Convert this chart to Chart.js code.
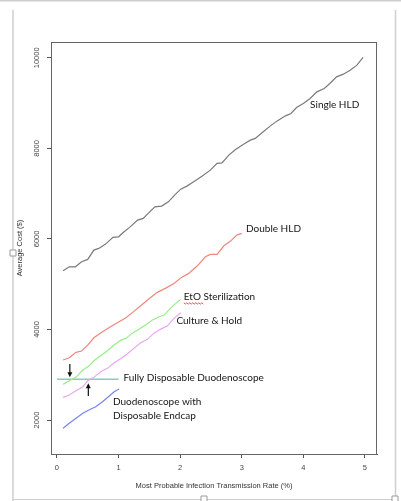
<!DOCTYPE html>
<html><head><meta charset="utf-8">
<script src="https://cdn.jsdelivr.net/npm/chart.js@4.4.0/dist/chart.umd.min.js"></script>
<style>html,body{margin:0;padding:0;background:#fff;overflow:hidden}</style>
</head><body>
<canvas id="c" width="401" height="501" style="width:401px;height:501px;display:block"></canvas>
<script>
// ---- data ----
const xTicks = [0, 1, 2, 3, 4, 5];
const yTicks = [2000, 4000, 6000, 8000, 10000];

const singleX = [0.10,0.20,0.30,0.40,0.50,0.60,0.68,0.79,0.91,1.00,1.09,1.18,1.31,1.40,1.49,1.59,1.70,1.81,1.91,2.01,2.11,2.22,2.36,2.49,2.60,2.68,2.79,2.90,3.03,3.14,3.22,3.33,3.46,3.57,3.71,3.80,3.89,4.00,4.11,4.22,4.34,4.43,4.54,4.65,4.76,4.87,4.97];
const singleY = [5297,5385,5385,5495,5548,5754,5791,5886,6034,6047,6158,6255,6416,6454,6577,6710,6725,6820,6968,7100,7167,7262,7388,7520,7668,7681,7851,7977,8094,8182,8220,8344,8492,8602,8719,8772,8904,8993,9103,9249,9324,9434,9580,9640,9728,9838,10008];

const doubleX = [0.10,0.20,0.31,0.40,0.50,0.60,0.74,0.87,1.01,1.12,1.23,1.36,1.49,1.63,1.76,1.90,2.02,2.14,2.28,2.41,2.49,2.60,2.71,2.82,2.92,3.00];
const doubleY = [3325,3376,3495,3524,3656,3817,3950,4060,4170,4259,4378,4524,4672,4820,4908,5018,5151,5239,5407,5606,5659,5659,5849,5952,6085,6122];

const etoX = [0.10,0.20,0.31,0.42,0.52,0.60,0.71,0.82,0.93,1.04,1.12,1.22,1.33,1.44,1.55,1.66,1.74,1.84,1.93,2.01];
const etoY = [2788,2868,2943,3104,3192,3309,3420,3530,3656,3766,3804,3914,4003,4098,4208,4281,4318,4466,4577,4665];

const cultureX = [0.10,0.20,0.31,0.42,0.50,0.60,0.71,0.82,0.93,1.04,1.14,1.25,1.36,1.47,1.57,1.68,1.79,1.90,2.01];
const cultureY = [2501,2552,2647,2735,2868,2943,3066,3142,3265,3362,3457,3583,3707,3782,3914,4003,4076,4246,4369];

const fullyX = [0, 1];
const fullyY = [2900, 2900];

const endcapX = [0.10,0.20,0.31,0.42,0.52,0.63,0.74,0.85,0.93,1.01];
const endcapY = [1817,1927,2038,2148,2221,2294,2404,2530,2625,2684];

const seriesNames = ['Single HLD','Double HLD','EtO Sterilization','Culture & Hold','Fully Disposable Duodenoscope','Duodenoscope with Disposable Endcap'];

// ---- annotation layout (text / arrows placed in data space) ----
const annotationLabels = [
  {text:'Single HLD', x:4.11, y:8955},
  {text:'Double HLD', x:3.07, y:6217},
  {text:'EtO Sterilization', x:2.06, y:4716, squiggle:'EtO'},
  {text:'Culture & Hold', x:1.94, y:4186},
  {text:'Fully Disposable Duodenoscope', x:1.08, y:2927},
  {text:'Duodenoscope with', x:0.91, y:2397},
  {text:'Disposable Endcap', x:0.91, y:2088}
];
const annotationArrows = [
  {x:0.21, from:3236, to:2943},
  {x:0.51, from:2530, to:2810}
];

const pts = (xs, ys) => xs.map((v, i) => ({x: v, y: ys[i]}));
const colors = ['#7a7a7a','#f2857c','#98ec8a','#eaa6f0','#86cbc4','#7684ee'];
const allX = [singleX, doubleX, etoX, cultureX, fullyX, endcapX];
const allY = [singleY, doubleY, etoY, cultureY, fullyY, endcapY];

const datasets = seriesNames.map((n, i) => ({
  label: n,
  data: pts(allX[i], allY[i]),
  borderColor: colors[i],
  borderWidth: i === 4 ? 1.4 : 1.2,
  pointRadius: 0,
  tension: 0,
  fill: false
}));

const axisFont = {family: 'Liberation Sans', size: 7.5};

const decorPlugin = {
  id: 'decor',
  beforeDraw(chart) {
    const ctx = chart.ctx;
    ctx.save();
    ctx.fillStyle = '#fff';
    ctx.fillRect(0, 0, chart.width, chart.height);
    // outer frame of the pasted picture
    ctx.strokeStyle = '#cfcfcf';
    ctx.lineWidth = 1.5;
    ctx.beginPath();
    ctx.moveTo(0, 0.75); ctx.lineTo(401, 0.75);
    ctx.moveTo(13, 10); ctx.lineTo(13, 501);
    ctx.moveTo(395.5, 10); ctx.lineTo(395.5, 501);
    ctx.stroke();
    ctx.lineWidth = 1;
    ctx.beginPath();
    ctx.moveTo(13, 499.5); ctx.lineTo(396, 499.5);
    ctx.stroke();
    ctx.restore();
  },
  afterDraw(chart) {
    const {ctx, chartArea: a, scales: {x, y}} = chart;
    ctx.save();
    // plot box
    ctx.strokeStyle = '#666';
    ctx.lineWidth = 1;
    ctx.strokeRect(Math.round(a.left) + 0.5, Math.round(a.top) + 0.5, Math.round(a.right - a.left) - 1, Math.round(a.bottom - a.top));
    // arrows
    ctx.strokeStyle = '#111';
    ctx.fillStyle = '#111';
    ctx.lineWidth = 1.2;
    annotationArrows.forEach(ar => {
      const px = x.getPixelForValue(ar.x);
      const y0 = y.getPixelForValue(ar.from);
      const y1 = y.getPixelForValue(ar.to);
      const dir = Math.sign(y1 - y0);
      ctx.beginPath();
      ctx.moveTo(px, y0); ctx.lineTo(px, y1 - dir * 4);
      ctx.stroke();
      ctx.beginPath();
      ctx.moveTo(px, y1);
      ctx.lineTo(px - 2.5, y1 - dir * 5);
      ctx.lineTo(px + 2.5, y1 - dir * 5);
      ctx.closePath();
      ctx.fill();
    });
    // labels
    ctx.font = '10px Lato';
    ctx.fillStyle = '#151515';
    ctx.textBaseline = 'middle';
    ctx.textAlign = 'left';
    annotationLabels.forEach(l => {
      const px = x.getPixelForValue(l.x);
      const py = y.getPixelForValue(l.y);
      ctx.fillText(l.text, px, py);
      if (l.squiggle) {
        const w = ctx.measureText(l.squiggle).width;
        ctx.strokeStyle = '#e0403a';
        ctx.lineWidth = 0.9;
        ctx.beginPath();
        let yy = py + 6;
        for (let sx = 0; sx <= w + 3; sx += 1.5) {
          const yv = yy + ((Math.round(sx / 1.5) % 2) ? 1 : -0.3);
          if (sx === 0) ctx.moveTo(px + sx, yv); else ctx.lineTo(px + sx, yv);
        }
        ctx.stroke();
      }
    });
    // selection handles
    ctx.fillStyle = '#fff';
    ctx.strokeStyle = '#9a9a9a';
    ctx.lineWidth = 1;
    [[13, 253], [204, 499], [395, 499]].forEach(([hx, hy]) => {
      ctx.beginPath();
      ctx.rect(hx - 3, hy - 3, 6, 6);
      ctx.fill(); ctx.stroke();
    });
    ctx.restore();
  }
};

new Chart(document.getElementById('c'), {
  type: 'line',
  data: {datasets},
  options: {
    responsive: false,
    animation: false,
    events: [],
    layout: {padding: {left: 0, top: 42, right: 24, bottom: 0}},
    plugins: {legend: {display: false}, tooltip: {enabled: false}},
    scales: {
      x: {
        type: 'linear',
        min: -0.096, max: 5.196,
        afterBuildTicks: s => { s.ticks = xTicks.map(v => ({value: v})); },
        afterFit: s => { s.height = 47; },
        grid: {display: true, drawOnChartArea: false, drawTicks: true, tickLength: 4, color: '#555'},
        border: {display: true, color: '#666'},
        ticks: {font: axisFont, color: '#444', padding: 5, maxRotation: 0, autoSkip: false, callback: v => String(v)},
        title: {display: true, text: 'Most Probable Infection Transmission Rate (%)', font: axisFont, color: '#333', padding: {top: 0, bottom: 10.5}}
      },
      y: {
        type: 'linear',
        min: 1250, max: 10350,
        afterBuildTicks: s => { s.ticks = yTicks.map(v => ({value: v})); },
        afterFit: s => { s.width = 51; },
        grid: {display: true, drawOnChartArea: false, drawTicks: true, tickLength: 4, color: '#555'},
        border: {display: true, color: '#666'},
        ticks: {font: axisFont, color: '#444', padding: 0, minRotation: 90, maxRotation: 90, crossAlign: 'center', autoSkip: false, callback: v => String(v)},
        title: {display: true, text: 'Average Cost ($)', font: axisFont, color: '#333', padding: {top: 15, bottom: 0}}
      }
    }
  },
  plugins: [decorPlugin]
});
</script>
</body></html>
